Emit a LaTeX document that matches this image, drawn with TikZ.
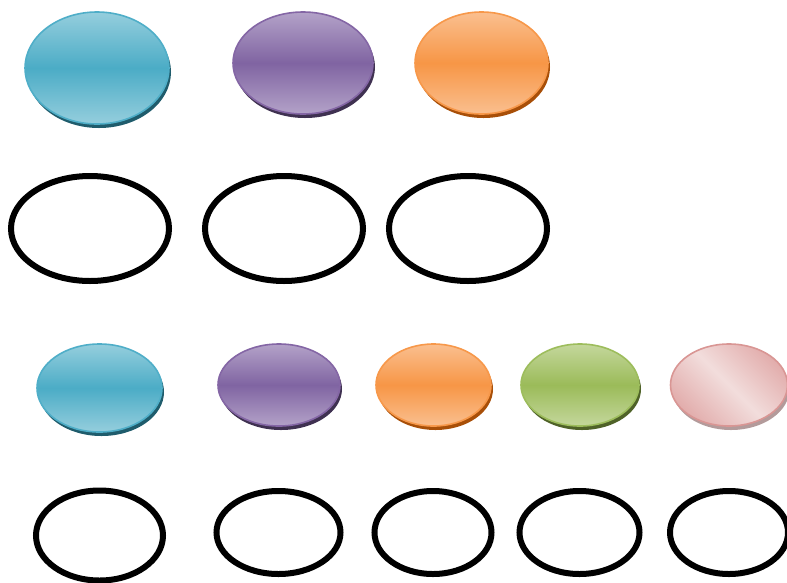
\documentclass[tikz,border=0pt]{standalone}
\usetikzlibrary{shapes.geometric,shadows}
\definecolor{bluemid}{HTML}{4BACC6}
\definecolor{bluelight}{HTML}{95CEDD}
\definecolor{blueedge}{HTML}{4FAEC8}
\definecolor{blueshadow}{HTML}{1F5C6C}
\definecolor{purpmid}{HTML}{8064A2}
\definecolor{purplight}{HTML}{B3A2C8}
\definecolor{purpedge}{HTML}{8466A5}
\definecolor{purpshadow}{HTML}{3F3151}
\definecolor{orgmid}{HTML}{F79646}
\definecolor{orglight}{HTML}{FABF8F}
\definecolor{orgedge}{HTML}{F7984A}
\definecolor{orgshadow}{HTML}{A84F08}
\definecolor{grnmid}{HTML}{9BBB59}
\definecolor{grnlight}{HTML}{C4D79C}
\definecolor{grnedge}{HTML}{9DBD5C}
\definecolor{grnshadow}{HTML}{4F6228}
\definecolor{pinkmid}{HTML}{E2ADAC}
\definecolor{pinklight}{HTML}{F2DDDC}
\definecolor{pinkedge}{HTML}{D99694}
\definecolor{pinkshadow}{HTML}{B39B9B}
\tikzset{
  x=1pt,y=-1pt,
  ring/.style={ellipse,draw=black,line width=6pt,inner sep=0pt},
  gloss/.style n args={4}{ellipse,inner sep=0pt,draw=#3,line width=1.6pt,
    top color=#2,bottom color=#2,middle color=#1,
    drop shadow={shadow xshift=2pt,shadow yshift=-4pt,opacity=1,fill=#4,draw=none}},
  glossdiag/.style n args={4}{ellipse,inner sep=0pt,draw=#3,line width=1.6pt,
    top color=#1,bottom color=#1,middle color=#2,shading angle=-45,
    drop shadow={shadow xshift=2pt,shadow yshift=-4pt,opacity=1,fill=#4,draw=none}},
}
\begin{document}
\begin{tikzpicture}
\useasboundingbox (0,0) rectangle (787,582);
% row 1
\node[gloss={bluemid}{bluelight}{blueedge}{blueshadow},minimum width=144pt,minimum height=112pt] (b1) at (97,68) {};
\node[gloss={purpmid}{purplight}{purpedge}{purpshadow},minimum width=140pt,minimum height=102pt] (p1) at (303,63) {};
\node[gloss={orgmid}{orglight}{orgedge}{orgshadow},minimum width=133pt,minimum height=102pt] (o1) at (481.5,63) {};
% row 2
\node[ring,minimum width=158pt,minimum height=105pt] (r1) at (90,228.5) {};
\node[ring,minimum width=158pt,minimum height=105pt] (r2) at (284,228.5) {};
\node[ring,minimum width=158pt,minimum height=105pt] (r3) at (468,228.5) {};
% row 3
\node[gloss={bluemid}{bluelight}{blueedge}{blueshadow},minimum width=125pt,minimum height=88pt] (b2) at (99.5,388) {};
\node[gloss={purpmid}{purplight}{purpedge}{purpshadow},minimum width=122pt,minimum height=82pt] (p2) at (279,385) {};
\node[gloss={orgmid}{orglight}{orgedge}{orgshadow},minimum width=115pt,minimum height=82pt] (o2) at (433.5,385) {};
\node[gloss={grnmid}{grnlight}{grnedge}{grnshadow},minimum width=118pt,minimum height=82pt] (g2) at (580,385) {};
\node[glossdiag={pinkmid}{pinklight}{pinkedge}{pinkshadow},minimum width=117pt,minimum height=82pt] (k2) at (729,385) {};
% row 4
\node[ring,minimum width=127pt,minimum height=90pt] (s1) at (99.5,535.5) {};
\node[ring,minimum width=124pt,minimum height=83pt] (s2) at (278.5,532.5) {};
\node[ring,minimum width=117pt,minimum height=83pt] (s3) at (433,532.5) {};
\node[ring,minimum width=120pt,minimum height=83pt] (s4) at (579.5,532.5) {};
\node[ring,minimum width=118pt,minimum height=83pt] (s5) at (729,532.5) {};
\end{tikzpicture}
\end{document}
